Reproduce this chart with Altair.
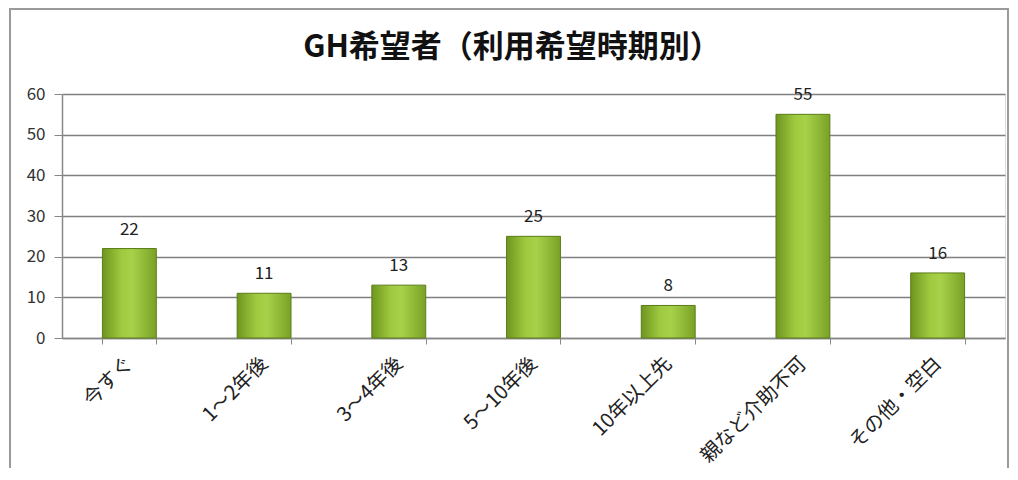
import altair as alt
import pandas as pd

categories = ["今すぐ", "1～2年後", "3～4年後", "5～10年後", "10年以上先", "親など介助不可", "その他・空白"]
values = [22, 11, 13, 25, 8, 55, 16]
title_text = "GH希望者（利用希望時期別）"

df = pd.DataFrame({"cat": categories, "val": values})

FONT = "Noto Sans CJK JP"

x = alt.X("cat:N", sort=categories, title=None,
          scale=alt.Scale(paddingInner=0.6, paddingOuter=0.3),
          axis=alt.Axis(labelAngle=-45, labelAlign="right", labelBaseline="middle",
                        labelFontSize=20, labelColor="#222", labelFont=FONT,
                        labelPadding=16, tickBand="extent", tickSize=6,
                        tickColor="#888", domainColor="#888", domainWidth=1.5,
                        grid=False, labelLimit=300))
y = alt.Y("val:Q", title=None,
          scale=alt.Scale(domain=[0, 60]),
          axis=alt.Axis(values=[0, 10, 20, 30, 40, 50, 60], labelFontSize=17,
                        labelColor="#333", labelFont=FONT, tickSize=8,
                        tickColor="#888", domainColor="#888", domainWidth=1.5,
                        gridColor="#808080", gridWidth=1.5, labelPadding=9))

grad = alt.Gradient(gradient="linear",
                    stops=[alt.GradientStop(color="#6e951f", offset=0),
                           alt.GradientStop(color="#9fc93f", offset=0.35),
                           alt.GradientStop(color="#a8d14a", offset=0.55),
                           alt.GradientStop(color="#79a226", offset=1)],
                    x1=0, x2=1, y1=0, y2=0)

bars = alt.Chart(df).mark_bar(fill=grad, stroke="#5a7d18", strokeWidth=1).encode(x=x, y=y)
labels = alt.Chart(df).mark_text(dy=-19, fontSize=17, color="#222", font=FONT).encode(
    x=alt.X("cat:N", sort=categories), y="val:Q", text="val:Q")

frame = alt.Chart(df).mark_rect(fill=None, stroke="#9a9a9a", strokeWidth=2).encode(
    x=alt.value(-52), x2=alt.value(946), y=alt.value(-85), y2=alt.value(420))

title = alt.Chart(pd.DataFrame({"t": [title_text]})).mark_text(
    fontSize=31, font=FONT, fontWeight="bold", color="#111", baseline="middle",
    align="center").encode(x=alt.value(450), y=alt.value(-46), text="t:N")

chart = alt.layer(frame, bars, labels, title).properties(
    width=943, height=244,
    autosize=alt.AutoSizeParams(type="none"),
    padding={"left": 54, "top": 86, "right": 5, "bottom": 130},
).configure_view(stroke=None).configure(background="white")

chart.save("out.html", embed_options={"renderer": "svg", "actions": False})
